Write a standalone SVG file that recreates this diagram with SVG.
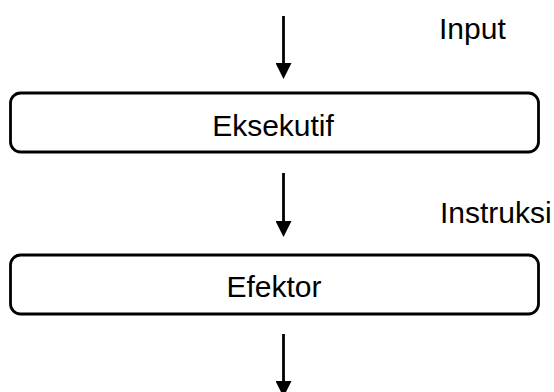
<svg xmlns="http://www.w3.org/2000/svg" width="554" height="392" viewBox="0 0 554 392">
  <style>
    .box { fill: #ffffff; stroke: #000000; stroke-width: 2.8; }
    .lbl { font-family: "Liberation Sans", Arial, sans-serif; font-size: 30px; fill: #000000; }
    .mid { text-anchor: middle; }
    .conn { stroke: #000000; stroke-width: 2.8; fill: none; marker-end: url(#arrow); }
  </style>
  <defs>
    <marker id="arrow" markerUnits="userSpaceOnUse" markerWidth="17" markerHeight="16" refX="1" refY="8" orient="auto">
      <path d="M0,0 L16,8 L0,16 Z" fill="#000000"/>
    </marker>
  </defs>
  <rect width="554" height="392" fill="#ffffff"/>
  <g id="connectors">
    <line class="conn" x1="283.5" y1="16" x2="283.5" y2="64"/>
    <line class="conn" x1="283.5" y1="173" x2="283.5" y2="222"/>
    <line class="conn" x1="283.5" y1="334" x2="283.5" y2="382"/>
  </g>
  <g id="label-input">
    <text class="lbl" x="439" y="39">Input</text>
  </g>
  <g id="label-instruksi">
    <text class="lbl" x="440" y="223">Instruksi</text>
  </g>
  <g id="node-eksekutif">
    <rect class="box" x="10.5" y="93" width="528" height="59" rx="10" ry="10"/>
    <text class="lbl mid" x="273" y="135.5">Eksekutif</text>
  </g>
  <g id="node-efektor">
    <rect class="box" x="10.5" y="255" width="528" height="59" rx="10" ry="10"/>
    <text class="lbl mid" x="274" y="296.5">Efektor</text>
  </g>
</svg>
